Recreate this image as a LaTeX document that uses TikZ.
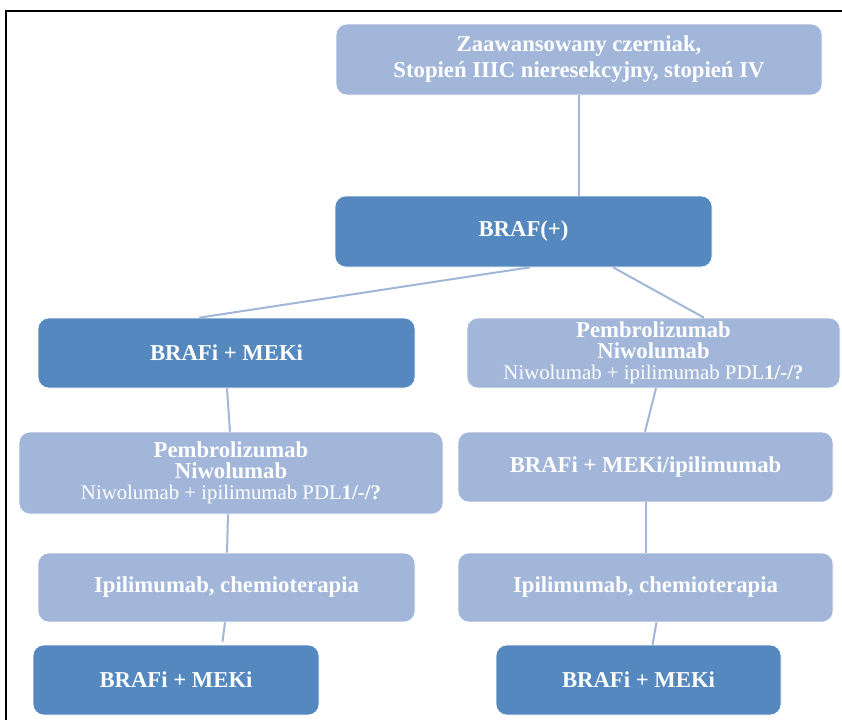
\documentclass[tikz,border=0pt]{standalone}
\usepackage{fontspec}
\setmainfont{Liberation Serif}
\usepackage{xcolor}
\usepackage{tikz}
\usetikzlibrary{arrows.meta, positioning}

\definecolor{lightblue}{HTML}{A1B6D9}
\definecolor{darkblue}{HTML}{5488BF}

\begin{document}
\begin{tikzpicture}[
    x=1pt, y=-1pt,
    box/.style={
        rectangle,
        rounded corners=11pt,
        draw=white,
        line width=0.6pt,
        inner sep=0pt,
        minimum width=377pt,
        minimum height=70pt,
        align=center,
        text=white,
        font=\fontsize{22.7}{21}\selectfont\bfseries
    },
    lightbox/.style={box, fill=lightblue},
    darkbox/.style={box, fill=darkblue},
    link/.style={draw=lightblue, line width=2pt}
]
\useasboundingbox (0,0) rectangle (842,720);

% frame
\draw[line width=2.4pt] (6,720) |- (842,11);

\node[lightbox, minimum width=486pt, minimum height=71pt,
      font=\fontsize{22.7}{26}\selectfont\bfseries] (stage) at (579,59.5)
    {Zaawansowany czerniak,\\Stopień IIIC nieresekcyjny, stopień IV};

\node[darkbox, minimum height=71pt] (braf) at (523.5,231.5) {BRAF(+)};

\node[darkbox] (leftA) at (226.5,353) {BRAFi + MEKi};

\node[lightbox, minimum width=373pt] (rightA) at (653.5,353)
    {Pembrolizumab\\Niwolumab\\{\mdseries\fontsize{20.8}{21}\selectfont Niwolumab + ipilimumab PDL\textbf{1/-/?}}};

\node[lightbox, minimum width=424pt, minimum height=82pt] (leftB) at (231,473)
    {Pembrolizumab\\Niwolumab\\{\mdseries\fontsize{20.8}{21}\selectfont Niwolumab + ipilimumab PDL\textbf{1/-/?}}};

\node[lightbox, minimum width=375pt] (rightB) at (645.5,467) {BRAFi + MEKi/ipilimumab};

\node[lightbox, minimum height=69pt] (leftC) at (226.5,587.5) {Ipilimumab, chemioterapia};

\node[lightbox, minimum width=375pt, minimum height=69pt] (rightC) at (645.5,587.5) {Ipilimumab, chemioterapia};

\node[darkbox, minimum width=286pt] (leftD) at (176,680) {BRAFi + MEKi};

\node[darkbox, minimum width=285pt] (rightD) at (638.5,680) {BRAFi + MEKi};

\draw[link] (stage.south) -- ([xshift=55.5]braf.north);
\draw[link] ([xshift=6.5]braf.south) -- ([xshift=-27.5]leftA.north);
\draw[link] ([xshift=89.5]braf.south) -- ([xshift=50.5]rightA.north);
\draw[link] ([xshift=0.5]leftA.south) -- ([xshift=-1]leftB.north);
\draw[link] ([xshift=-3]leftB.south) -- ([xshift=0.5]leftC.north);
\draw[link] ([xshift=-1.5]leftC.south) -- ([xshift=46.5,yshift=3]leftD.north);
\draw[link] ([xshift=2.5]rightA.south) -- ([xshift=-0.5]rightB.north);
\draw[link] (rightB.south) -- (rightC.north);
\draw[link] ([xshift=11]rightC.south) -- ([xshift=14]rightD.north);

\end{tikzpicture}
\end{document}
